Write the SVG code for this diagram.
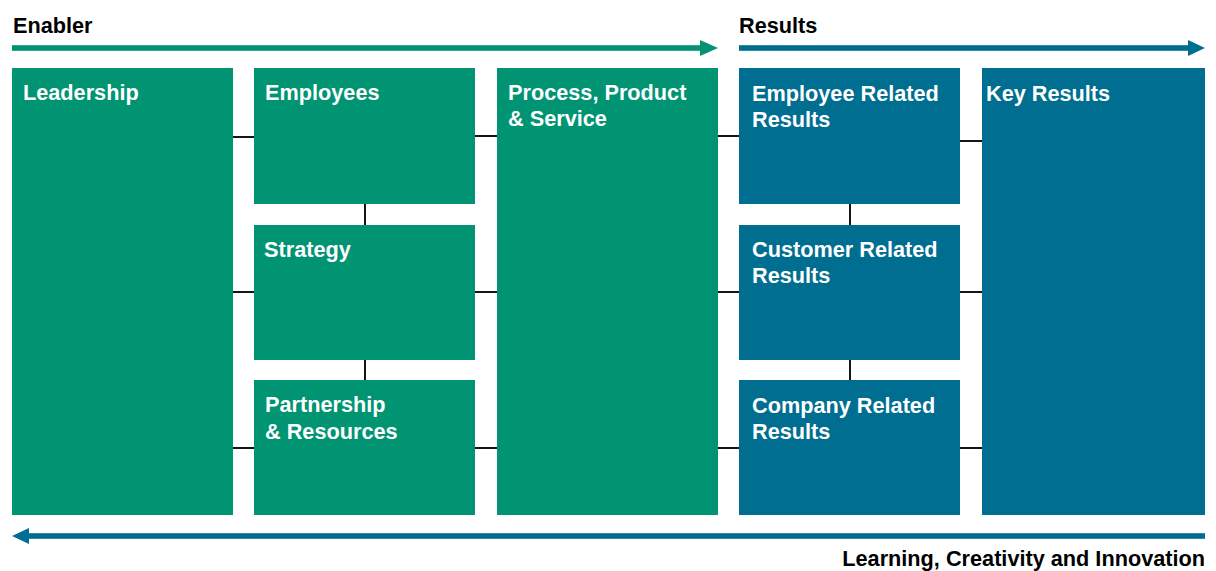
<svg xmlns="http://www.w3.org/2000/svg" width="1216" height="571" viewBox="0 0 1216 571">
<style>
.g{fill:#009473}
.b{fill:#006e91}
.lbl{font-family:"Liberation Sans",Arial,Helvetica,sans-serif;font-weight:bold;font-size:21.7px;fill:#ffffff}
.hdr{font-family:"Liberation Sans",Arial,Helvetica,sans-serif;font-weight:bold;font-size:21.7px;fill:#000000}
.c{stroke:#151515;stroke-width:2;fill:none}
</style>
<rect width="1216" height="571" fill="#ffffff"/>
<g id="flows">
<rect class="g" x="12" y="45.2" width="690" height="5.6"/>
<polygon class="g" points="700,40 718,48 700,56"/>
<rect class="b" x="739" y="45.2" width="450" height="5.6"/>
<polygon class="b" points="1188,40 1205,48 1188,56"/>
<rect class="b" x="28" y="533.2" width="1177" height="5.6"/>
<polygon class="b" points="29,528 12,536 29,544"/>
</g>
<text class="hdr" x="13" y="33">Enabler</text>
<text class="hdr" x="739" y="33">Results</text>
<text class="hdr" x="1205" y="566" text-anchor="end">Learning, Creativity and Innovation</text>
<g id="connectors">
<path class="c" d="M233 137H254M233 292H254M233 448H254"/>
<path class="c" d="M475 136H497M475 292H497M475 448H497"/>
<path class="c" d="M718 136H739M718 292H739M718 448H739"/>
<path class="c" d="M960 141H982M960 292H982M960 448H982"/>
<path class="c" d="M365 204V225M365 360V380"/>
<path class="c" d="M850 204V225M850 360V380"/>
</g>
<g id="leadership"><rect class="g" x="12" y="68" width="221" height="447"/><text class="lbl" x="23" y="100">Leadership</text></g>
<g id="employees"><rect class="g" x="254" y="68" width="221" height="136"/><text class="lbl" x="265" y="100">Employees</text></g>
<g id="strategy"><rect class="g" x="254" y="225" width="221" height="135"/><text class="lbl" x="264" y="257">Strategy</text></g>
<g id="partnership"><rect class="g" x="254" y="380" width="221" height="135"/><text class="lbl" x="265" y="412">Partnership</text><text class="lbl" x="265" y="439">&amp; Resources</text></g>
<g id="process"><rect class="g" x="497" y="68" width="221" height="447"/><text class="lbl" x="508" y="100">Process, Product</text><text class="lbl" x="508" y="126">&amp; Service</text></g>
<g id="employee-results"><rect class="b" x="739" y="68" width="221" height="136"/><text class="lbl" x="752" y="101">Employee Related</text><text class="lbl" x="752" y="127">Results</text></g>
<g id="customer-results"><rect class="b" x="739" y="225" width="221" height="135"/><text class="lbl" x="752" y="257">Customer Related</text><text class="lbl" x="752" y="283">Results</text></g>
<g id="company-results"><rect class="b" x="739" y="380" width="221" height="135"/><text class="lbl" x="752" y="413">Company Related</text><text class="lbl" x="752" y="439">Results</text></g>
<g id="key-results"><rect class="b" x="982" y="68" width="223" height="447"/><text class="lbl" x="986" y="101">Key Results</text></g>
</svg>
